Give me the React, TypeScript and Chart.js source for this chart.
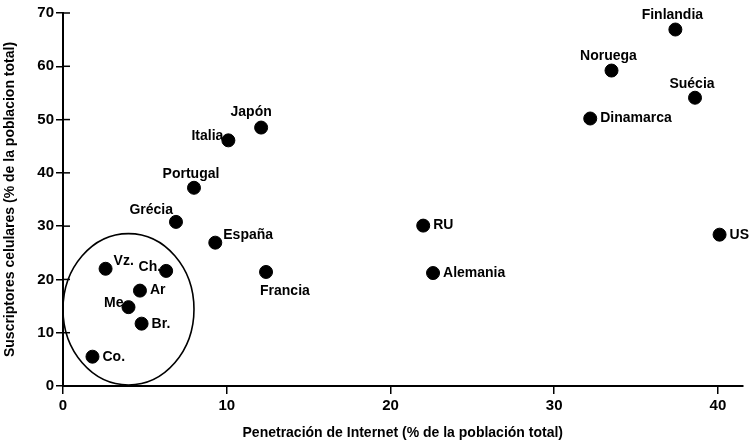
import React, { useEffect, useRef } from "react";
import { Chart, registerables } from "chart.js";

Chart.register(...registerables);

const countries = ["Finlandia", "Noruega", "Suécia", "Dinamarca", "Japón", "Italia", "Portugal", "Grécia", "España", "Francia", "RU", "Alemania", "US", "Vz.", "Ch.", "Ar", "Me", "Br.", "Co."];
const internet = [37.4, 33.5, 38.6, 32.2, 12.1, 10.1, 8.0, 6.9, 9.3, 12.4, 22.0, 22.6, 40.1, 2.6, 6.3, 4.7, 4.0, 4.8, 1.8];
const celulares = [66.9, 59.2, 54.1, 50.2, 48.5, 46.1, 37.2, 30.8, 26.9, 21.4, 30.1, 21.2, 28.4, 22.0, 21.6, 17.9, 14.8, 11.7, 5.5];
const labelPlacement = ["above", "above", "above", "right", "aboveLeft", "left", "above", "aboveLeft", "aboveRight", "belowRight", "right", "right", "right", "aboveRight", "left", "right", "left", "right", "right"];
const xTicks = [0, 10, 20, 30, 40];
const yTicks = [0, 10, 20, 30, 40, 50, 60, 70];
// ellipse grouping Latin American countries (data coordinates)
const groupCenter = [4.0, 14.4];
const groupRadius = [4.0, 14.2];

const FAMILY = "'Liberation Sans', Arial, sans-serif";

const labelPlugin = {
  id: "pointLabels",
  afterDatasetsDraw(chart: any) {
    const { ctx } = chart;
    const meta = chart.getDatasetMeta(0);
    ctx.save();
    ctx.fillStyle = "#000";
    ctx.font = `bold 14px ${FAMILY}`;
    meta.data.forEach((pt: any, i: number) => {
      const p = labelPlacement[i];
      let x = pt.x, y = pt.y;
      ctx.textBaseline = "middle";
      if (p === "above") { ctx.textAlign = "center"; x -= 3; y -= 14; }
      else if (p === "aboveLeft") { ctx.textAlign = "right"; x -= 3; y -= 12; if (countries[i] === "Japón") { ctx.textAlign = "center"; x = pt.x - 10; y = pt.y - 15; } }
      else if (p === "aboveRight") { ctx.textAlign = "left"; x += 8; y -= 8; }
      else if (p === "belowRight") { ctx.textAlign = "left"; x -= 6; y += 19; }
      else if (p === "left") { ctx.textAlign = "right"; x -= 5; y -= 4; }
      else { ctx.textAlign = "left"; x += 10; y += 0; }
      ctx.fillText(countries[i], x, y);
    });
    ctx.restore();
  },
};

const ellipsePlugin = {
  id: "groupEllipse",
  afterDatasetsDraw(chart: any) {
    const { ctx, scales } = chart;
    const cx = scales.x.getPixelForValue(groupCenter[0]);
    const cy = scales.y.getPixelForValue(groupCenter[1]);
    const rx = Math.abs(scales.x.getPixelForValue(groupCenter[0] + groupRadius[0]) - cx);
    const ry = Math.abs(scales.y.getPixelForValue(groupCenter[1] + groupRadius[1]) - cy);
    ctx.save();
    ctx.strokeStyle = "#000";
    ctx.lineWidth = 1.6;
    ctx.beginPath();
    ctx.ellipse(cx, cy, rx, ry, 0, 0, Math.PI * 2);
    ctx.stroke();
    // inward tick marks on the y axis (ticks cross the axis)
    const x0 = scales.x.left;
    ctx.lineWidth = 1.5;
    yTicks.forEach((v) => {
      const y = scales.y.getPixelForValue(v);
      ctx.beginPath();
      ctx.moveTo(x0, y);
      ctx.lineTo(x0 + 7, y);
      ctx.stroke();
    });
    ctx.restore();
  },
};

const tickFont = { family: FAMILY, size: 15, weight: "bold" } as any;

export default function App() {
  const ref = useRef<HTMLCanvasElement | null>(null);
  useEffect(() => {
    document.body.style.margin = "0";
    const chart = new Chart(ref.current as HTMLCanvasElement, {
      type: "scatter",
      data: {
        datasets: [
          {
            data: internet.map((v, i) => ({ x: v, y: celulares[i] })),
            backgroundColor: "#000",
            borderColor: "#000",
            pointRadius: 6.5,
            pointHoverRadius: 6.5,
          },
        ],
      },
      options: {
        responsive: false,
        animation: false,
        layout: { padding: { top: 13, right: 5, left: 0, bottom: 0 } },
        plugins: { legend: { display: false }, tooltip: { enabled: false } },
        scales: {
          x: {
            type: "linear",
            min: 0,
            max: 41.5,
            afterBuildTicks: (s: any) => { s.ticks = xTicks.map((v) => ({ value: v })); },
            afterFit: (s: any) => { s.height = 59; },
            border: { display: true, color: "#000", width: 2 },
            grid: { display: true, drawOnChartArea: false, drawTicks: true, tickLength: 8, color: "#000", lineWidth: 1.5 },
            ticks: { color: "#000", font: tickFont, padding: 3 },
            title: { display: true, text: "Penetración de Internet (% de la población total)", color: "#000", font: { family: FAMILY, size: 14, weight: "bold" }, padding: { top: 4, bottom: 3 } },
          },
          y: {
            type: "linear",
            min: 0,
            max: 70,
            afterBuildTicks: (s: any) => { s.ticks = yTicks.map((v) => ({ value: v })); },
            afterFit: (s: any) => { s.width = 63; },
            border: { display: true, color: "#000", width: 2 },
            grid: { display: true, drawOnChartArea: false, drawTicks: true, tickLength: 7, color: "#000", lineWidth: 1.5 },
            ticks: { color: "#000", font: tickFont, padding: 2 },
            title: { display: true, text: "Suscriptores celulares (% de la poblacion total)", color: "#000", font: { family: FAMILY, size: 14, weight: "bold" }, padding: { top: 2, bottom: 6 } },
          },
        },
      },
      plugins: [labelPlugin, ellipsePlugin],
    } as any);
    return () => chart.destroy();
  }, []);
  return (
    <div style={{ width: 750, height: 445, background: "#fff" }}>
      <canvas ref={ref} width={750} height={445} />
    </div>
  );
}
